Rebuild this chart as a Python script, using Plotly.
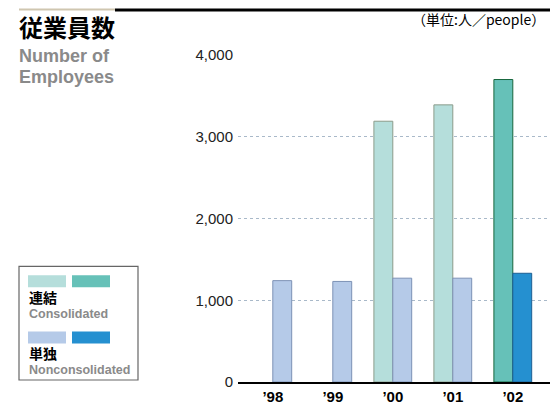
"""
Employee headcount chart (consolidated / nonconsolidated), recreated with Plotly.
"""

import plotly.graph_objects as go

# Data
years = ["’98", "’99", "’00", "’01", "’02"]
consolidated = [None, None, 3190, 3390, 3700]
nonconsolidated = [1240, 1230, 1270, 1270, 1330]
y_ticks = [0, 1000, 2000, 3000, 4000]
y_tick_labels = ["0", "1,000", "2,000", "3,000", "4,000"]

# Colours
CONS_LIGHT = "#b5dedb"
CONS_DARK = "#66c1b8"
NONC_LIGHT = "#b5cae8"
NONC_DARK = "#2590d0"

# Figure geometry (pixels)
W, H = 550, 405
M_L, M_R, M_T, M_B = 238, 0, 55, 19

LATIN = "Liberation Sans, Arial, sans-serif"
CJK = "Noto Sans CJK JP, sans-serif"


def px(x):
    """Pixel x (from left) -> paper x."""
    return (x - M_L) / (W - M_L - M_R)


def py(y):
    """Pixel y (from top) -> paper y."""
    return (H - M_B - y) / (H - M_T - M_B)


def rect(x0, y0, x1, y1, fill, line_color=None, line_width=0):
    return dict(
        type="rect", xref="paper", yref="paper",
        x0=px(x0), x1=px(x1), y0=py(y1), y1=py(y0),
        fillcolor=fill, layer="above",
        line=dict(color=line_color or fill, width=line_width),
    )


def text(x, y, s, size, color="#000", family=LATIN, bold=False, anchor="left"):
    if bold:
        s = f"<b>{s}</b>"
    return dict(
        xref="paper", yref="paper", x=px(x), y=py(y), text=s,
        showarrow=False, xanchor=anchor, yanchor="middle",
        xshift=-1 if anchor == "left" else 0,
        font=dict(size=size, color=color, family=family),
    )


fig = go.Figure()

fig.add_trace(go.Bar(
    x=years, y=consolidated, name="連結",
    marker=dict(
        color=[CONS_LIGHT] * 4 + [CONS_DARK],
        line=dict(color=["#8c9c8a"] * 4 + ["#17663d"], width=1),
    ),
))
fig.add_trace(go.Bar(
    x=years, y=nonconsolidated, name="単独",
    marker=dict(
        color=[NONC_LIGHT] * 4 + [NONC_DARK],
        line=dict(color=["#7d92b5"] * 4 + ["#1d5f93"], width=1),
    ),
))

shapes = [
    # header rule
    rect(19, 8, 115, 10, "#cfc6b0"),
    rect(115, 8, 550, 11, "#000000"),
    # legend box
    rect(19, 269, 138, 384, "rgba(0,0,0,0)", "#666666", 1.2),
    rect(28, 278, 66, 290, CONS_LIGHT),
    rect(72, 278, 110, 290, CONS_DARK),
    rect(28, 335, 66, 347, NONC_LIGHT),
    rect(72, 335, 110, 347, NONC_DARK),
]

annotations = [
    text(18, 26, "従業員数", 24, family=CJK, bold=True),
    text(18, 56, "Number of", 18, color="#8a8a8a", bold=True),
    text(18, 77, "Employees", 18, color="#8a8a8a", bold=True),
    text(547, 19, "（単位:人／people）", 14, family=CJK, anchor="right"),
    text(28, 300, "連結", 14, family=CJK, bold=True),
    text(28, 317, "Consolidated", 12.5, color="#8a8a8a", bold=True),
    text(28, 357, "単独", 14, family=CJK, bold=True),
    text(28, 374, "Nonconsolidated", 12.5, color="#8a8a8a", bold=True),
]

fig.update_layout(
    width=W, height=H,
    margin=dict(l=M_L, r=M_R, t=M_T, b=M_B),
    paper_bgcolor="white", plot_bgcolor="white",
    barmode="group", bargap=0.37, bargroupgap=0,
    showlegend=False,
    shapes=shapes, annotations=annotations,
    xaxis=dict(
        type="category", range=[-0.58, 4.62],
        showline=True, linecolor="#000", linewidth=1.5,
        showgrid=False, ticks="",
        tickfont=dict(size=15, color="#000", family=LATIN, weight="bold"),
    ),
    yaxis=dict(
        range=[0, 4000], tickvals=y_ticks, ticktext=y_tick_labels,
        showgrid=True, gridcolor="#a9b9c9", gridwidth=1, griddash="dot",
        zeroline=False, showline=False, ticks="",
        ticklabelstandoff=4,
        tickfont=dict(size=15, color="#222", family=LATIN),
    ),
)

# the page's default body margin would push the chart 8px off the window
fig.write_html(
    "out.html",
    config={"displayModeBar": False},
    post_script="document.body.style.margin = '0';",
)
